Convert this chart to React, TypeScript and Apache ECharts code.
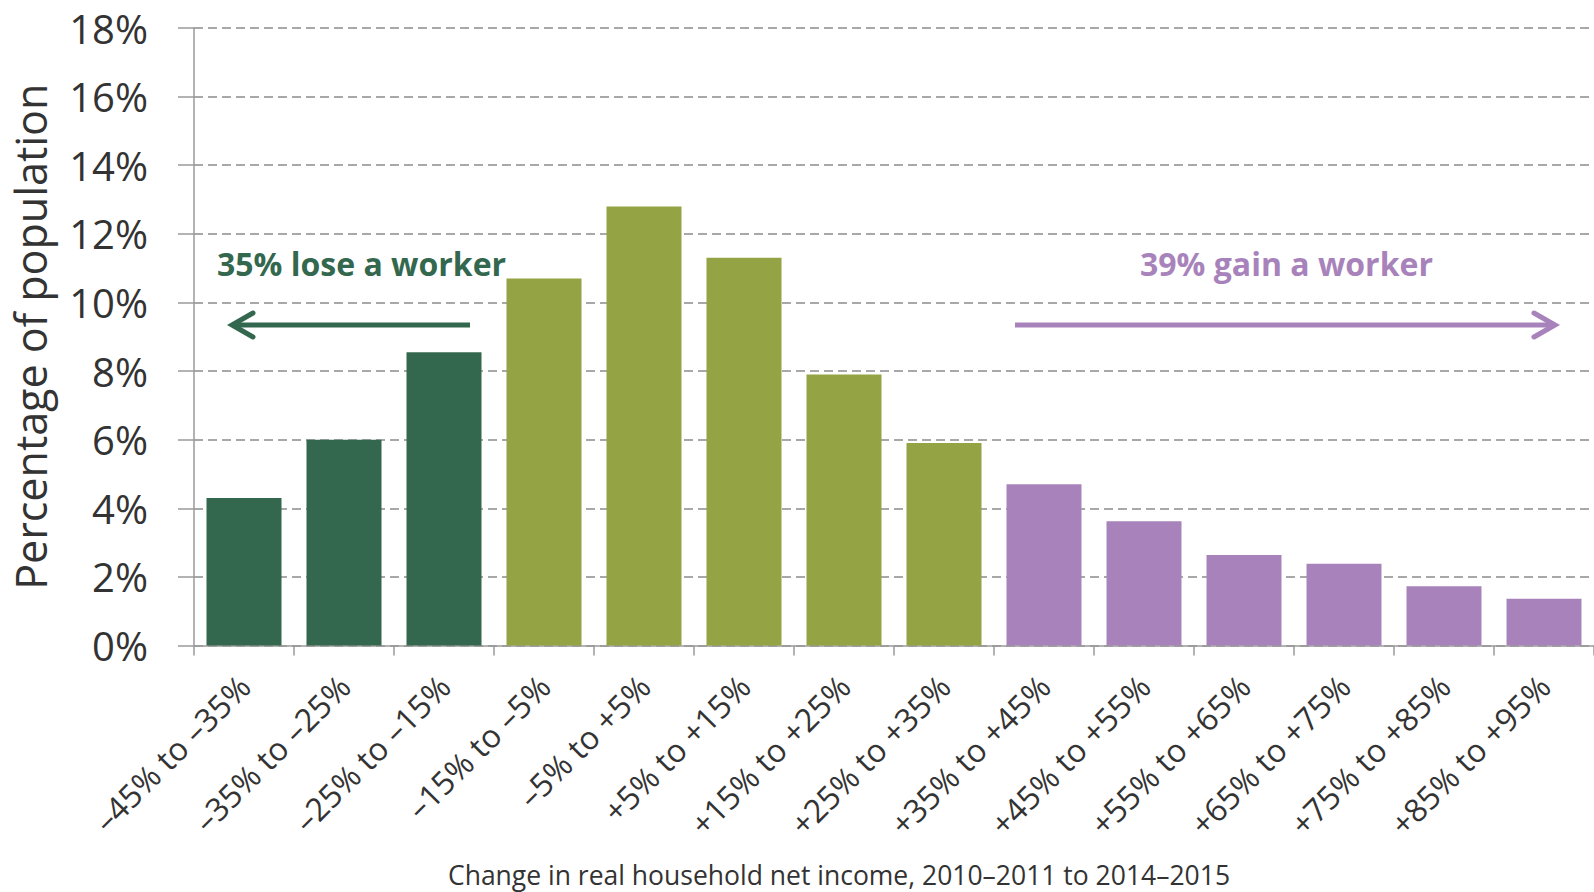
import React, { useEffect, useRef } from "react";
import * as echarts from "echarts";

const categories = [
  "–45% to –35%", "–35% to –25%", "–25% to –15%", "–15% to –5%", "–5% to +5%",
  "+5% to +15%", "+15% to +25%", "+25% to +35%", "+35% to +45%", "+45% to +55%",
  "+55% to +65%", "+65% to +75%", "+75% to +85%", "+85% to +95%",
];
const values = [4.3, 6.0, 8.55, 10.7, 12.8, 11.3, 7.9, 5.9, 4.7, 3.62, 2.64, 2.38, 1.73, 1.36];
const groups = [0, 0, 0, 1, 1, 1, 1, 1, 2, 2, 2, 2, 2, 2];
const groupColors = ["#33684F", "#94A444", "#A883BB"];
const yTicks = [0, 2, 4, 6, 8, 10, 12, 14, 16, 18];

const FONT = "'Open Sans', 'Noto Sans', sans-serif";

export default function App() {
  const ref = useRef<HTMLDivElement>(null);
  useEffect(() => {
    if (!ref.current) return;
    const chart = echarts.init(ref.current, null, { renderer: "svg" });
    const green = groupColors[0];
    const purple = groupColors[2];
    chart.setOption({
      animation: false,
      grid: { left: 194, right: 0, top: 28, bottom: 246.5, containLabel: false },
      xAxis: {
        type: "category",
        data: categories,
        axisLine: { lineStyle: { color: "#9a9a9a", width: 1.5 } },
        axisTick: { show: true, length: 10, lineStyle: { color: "#9a9a9a", width: 1.5 } },
        axisLabel: {
          rotate: 45,
          interval: 0,
          margin: 35,
          fontSize: 32,
          color: "#333333",
          fontFamily: FONT,
        },
      },
      yAxis: {
        type: "value",
        min: yTicks[0],
        max: yTicks[yTicks.length - 1],
        interval: 2,
        name: "Percentage of population",
        nameLocation: "middle",
        nameRotate: 90,
        nameGap: 142,
        nameTextStyle: { fontSize: 43, color: "#333333", fontFamily: FONT },
        axisLine: { show: true, lineStyle: { color: "#9a9a9a", width: 1.5 } },
        axisTick: { show: true, length: 16, lineStyle: { color: "#9a9a9a", width: 1.5 } },
        axisLabel: {
          formatter: "{value}%",
          fontSize: 40,
          color: "#333333",
          fontFamily: FONT,
          margin: 46,
        },
        splitLine: { show: true, lineStyle: { color: "#8c8c8c", width: 1.6, type: [9, 5] } },
      },
      series: [
        {
          type: "bar",
          barWidth: "75%",
          data: values.map((v, i) => ({ value: v, itemStyle: { color: groupColors[groups[i]] } })),
        },
      ],
      graphic: [
        {
          type: "text",
          x: 217,
          y: 263,
          style: {
            text: "35% lose a worker",
            font: `bold 32px ${FONT}`,
            fill: green,
            verticalAlign: "middle",
            align: "left",
          },
        },
        {
          type: "text",
          x: 1140,
          y: 263,
          style: {
            text: "39% gain a worker",
            font: `bold 32px ${FONT}`,
            fill: purple,
            verticalAlign: "middle",
            align: "left",
          },
        },
        {
          type: "line",
          shape: { x1: 470, y1: 325, x2: 233, y2: 325 },
          style: { stroke: green, lineWidth: 5 },
        },
        {
          type: "polyline",
          shape: { points: [[253, 313], [232, 325], [253, 337]] },
          style: { stroke: green, lineWidth: 5, fill: null, lineCap: "round", lineJoin: "miter" },
        },
        {
          type: "line",
          shape: { x1: 1015, y1: 325, x2: 1553, y2: 325 },
          style: { stroke: purple, lineWidth: 5 },
        },
        {
          type: "polyline",
          shape: { points: [[1534, 313], [1555, 325], [1534, 337]] },
          style: { stroke: purple, lineWidth: 5, fill: null, lineCap: "round", lineJoin: "miter" },
        },
        {
          type: "text",
          x: 839,
          y: 875,
          style: {
            text: "Change in real household net income, 2010–2011 to 2014–2015",
            font: `26.5px ${FONT}`,
            fill: "#333333",
            align: "center",
            verticalAlign: "middle",
          },
        },
      ],
    });
    return () => chart.dispose();
  }, []);
  return (
    <div
      ref={ref}
      style={{ position: "fixed", left: 0, top: 0, width: "1594px", height: "892px", background: "#ffffff" }}
    />
  );
}
